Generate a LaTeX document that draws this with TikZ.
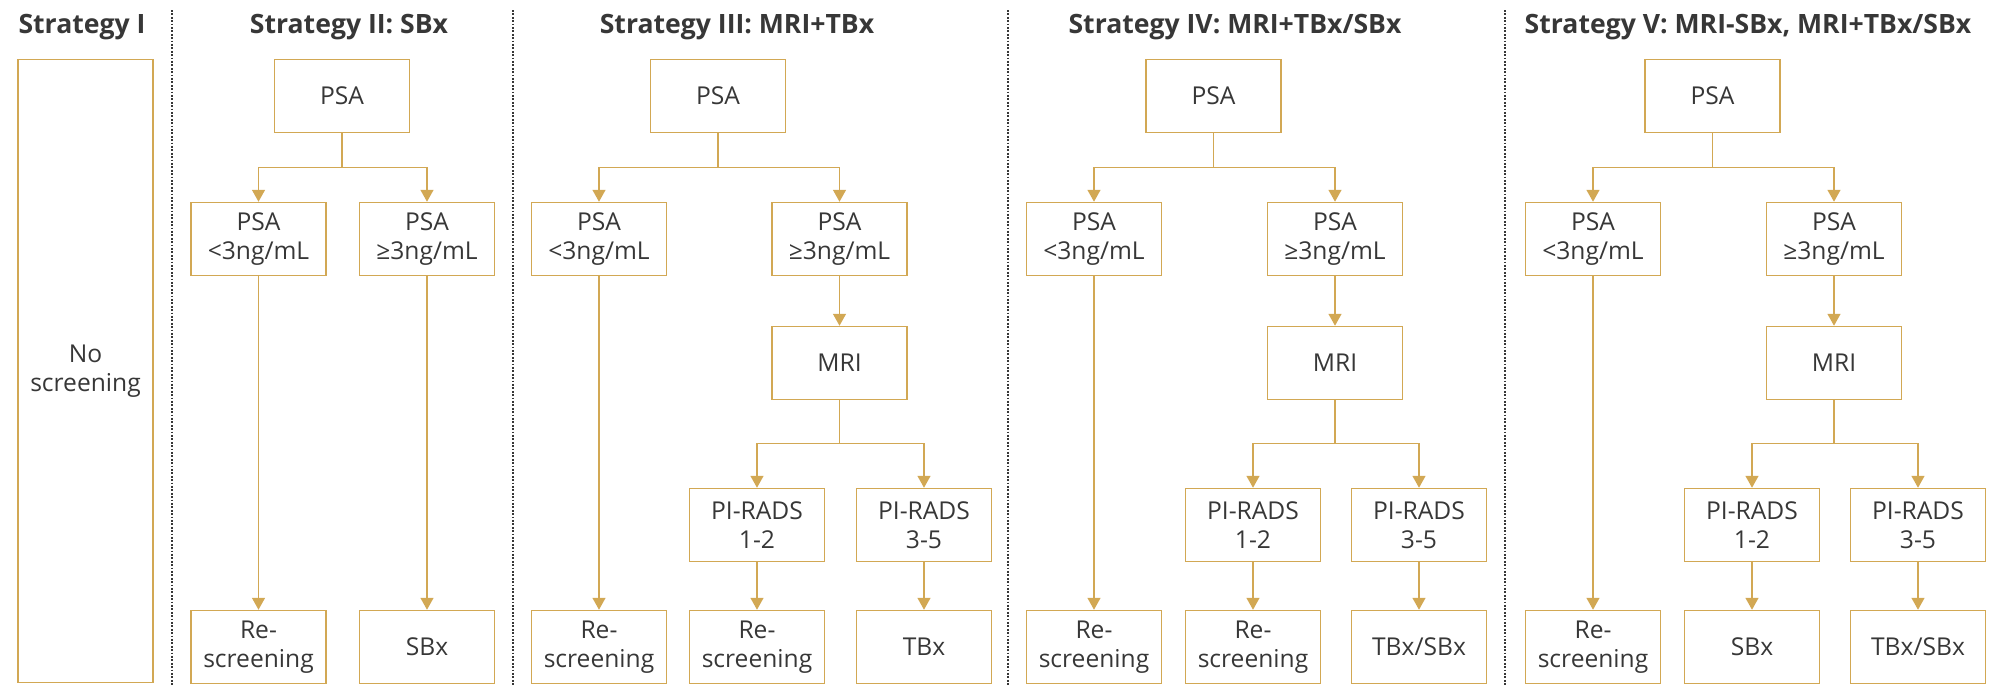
\documentclass[tikz,border=0pt]{standalone}
\usepackage{fontspec}
\setmainfont{Open Sans}
\usepackage{tikz}
\usetikzlibrary{arrows.meta}
\usepackage{xcolor}
\definecolor{gold}{RGB}{210,168,84}
\definecolor{ink}{RGB}{55,55,55}

\begin{document}
\begin{tikzpicture}[x=.5pt, y=-.5pt,
        box/.style={draw=gold, line width=.75pt, minimum width=67.5pt, minimum height=36.5pt, inner sep=0pt, align=center, text=ink, font=\fontsize{12.3}{14.6}\selectfont},
        link/.style={draw=gold, line width=.75pt, -{Triangle[width=6.5pt,length=6pt]}},
        title/.style={anchor=base, text=ink, font=\fontsize{13.3}{16}\selectfont\bfseries},
        divider/.style={draw=ink, line width=.8pt, dash pattern=on .9pt off .8pt}]
            \useasboundingbox (0,0) rectangle (2010,685);
            \draw[divider] (172,10) -- (172,685);
            \draw[divider] (513,10) -- (513,685);
            \draw[divider] (1008,10) -- (1008,685);
            \draw[divider] (1505,10) -- (1505,685);
            \node[title] (tI) at (82,33) {Strategy I};
            \node[title] (tII) at (349,33) {Strategy II: SBx};
            \node[title] (tIII) at (737,33) {Strategy III: MRI+TBx};
            \node[title] (tIV) at (1235,33) {Strategy IV: MRI+TBx/SBx};
            \node[title] (tV) at (1748,33) {Strategy V: MRI-SBx, MRI+TBx/SBx};
            \node[box, minimum height=311.5pt] (noscr) at (85.5,371) {No\\screening};

            \node[box] (psaII) at (342,96) {PSA};
            \node[box] (loII) at (258.5,239) {PSA\\<3ng/mL};
            \node[box] (hiII) at (427,239) {PSA\\≥3ng/mL};
            \node[box] (scrII) at (258.5,647) {Re-\\screening};
            \node[box] (sbII) at (427,647) {SBx};
            \draw[link] (psaII.south) -- ++(0,34) -| (loII.north);
            \draw[link] (psaII.south) -- ++(0,34) -| (hiII.north);
            \draw[link] (loII) -- (scrII);
            \draw[link] (hiII) -- (sbII);

            \node[box] (psaIII) at (718,96) {PSA};
            \node[box] (loIII) at (599,239) {PSA\\<3ng/mL};
            \node[box] (hiIII) at (839.5,239) {PSA\\≥3ng/mL};
            \node[box] (mriIII) at (839.5,363) {MRI};
            \node[box] (lowIII) at (757,525) {PI-RADS\\1-2};
            \node[box] (highIII) at (924,525) {PI-RADS\\3-5};
            \node[box] (scrIII) at (599,647) {Re-\\screening};
            \node[box] (rescrIII) at (757,647) {Re-\\screening};
            \node[box] (tbIII) at (924,647) {TBx};
            \draw[link] (psaIII.south) -- ++(0,34) -| (loIII.north);
            \draw[link] (psaIII.south) -- ++(0,34) -| (hiIII.north);
            \draw[link] (hiIII) -- (mriIII);
            \draw[link] (mriIII.south) -- ++(0,43) -| (lowIII.north);
            \draw[link] (mriIII.south) -- ++(0,43) -| (highIII.north);
            \draw[link] (loIII) -- (scrIII);
            \draw[link] (lowIII) -- (rescrIII);
            \draw[link] (highIII) -- (tbIII);

            \node[box] (psaIV) at (1213.5,96) {PSA};
            \node[box] (loIV) at (1094,239) {PSA\\<3ng/mL};
            \node[box] (hiIV) at (1335,239) {PSA\\≥3ng/mL};
            \node[box] (mriIV) at (1335,363) {MRI};
            \node[box] (lowIV) at (1253,525) {PI-RADS\\1-2};
            \node[box] (highIV) at (1419,525) {PI-RADS\\3-5};
            \node[box] (scrIV) at (1094,647) {Re-\\screening};
            \node[box] (rescrIV) at (1253,647) {Re-\\screening};
            \node[box] (tsIV) at (1419,647) {TBx/SBx};
            \draw[link] (psaIV.south) -- ++(0,34) -| (loIV.north);
            \draw[link] (psaIV.south) -- ++(0,34) -| (hiIV.north);
            \draw[link] (hiIV) -- (mriIV);
            \draw[link] (mriIV.south) -- ++(0,43) -| (lowIV.north);
            \draw[link] (mriIV.south) -- ++(0,43) -| (highIV.north);
            \draw[link] (loIV) -- (scrIV);
            \draw[link] (lowIV) -- (rescrIV);
            \draw[link] (highIV) -- (tsIV);

            \node[box] (psaV) at (1712.5,96) {PSA};
            \node[box] (loV) at (1593,239) {PSA\\<3ng/mL};
            \node[box] (hiV) at (1834,239) {PSA\\≥3ng/mL};
            \node[box] (mriV) at (1834,363) {MRI};
            \node[box] (lowV) at (1752,525) {PI-RADS\\1-2};
            \node[box] (highV) at (1918,525) {PI-RADS\\3-5};
            \node[box] (scrV) at (1593,647) {Re-\\screening};
            \node[box] (sbV) at (1752,647) {SBx};
            \node[box] (tsV) at (1918,647) {TBx/SBx};
            \draw[link] (psaV.south) -- ++(0,34) -| (loV.north);
            \draw[link] (psaV.south) -- ++(0,34) -| (hiV.north);
            \draw[link] (hiV) -- (mriV);
            \draw[link] (mriV.south) -- ++(0,43) -| (lowV.north);
            \draw[link] (mriV.south) -- ++(0,43) -| (highV.north);
            \draw[link] (loV) -- (scrV);
            \draw[link] (lowV) -- (sbV);
            \draw[link] (highV) -- (tsV);
        \end{tikzpicture}
\end{document}
